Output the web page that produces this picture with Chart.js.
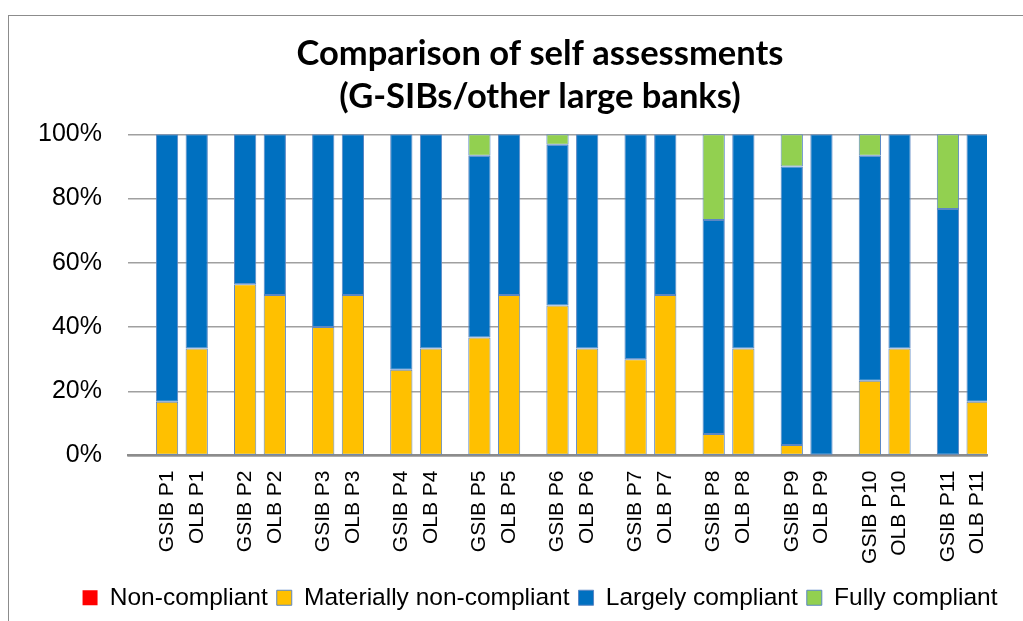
<!DOCTYPE html>
<html>
<head>
<meta charset="utf-8">
<title>Comparison of self assessments</title>
<script src="https://cdn.jsdelivr.net/npm/chart.js@4.4.1/dist/chart.umd.min.js"></script>
<style>
  html, body { margin: 0; padding: 0; background: #fff; overflow: hidden; }
  #wrap { position: relative; width: 1023px; height: 621px; overflow: hidden; }
  #frame { position: absolute; left: 8px; top: 15px; width: 1200px; height: 800px; border: 1.5px solid #8c8c8c; }
  #box { position: absolute; left: 0; top: 0; width: 1072px; height: 621px; }
</style>
</head>
<body>
<div id="wrap">
  <div id="frame"></div>
  <div id="box"><canvas id="chart"></canvas></div>
</div>
<script>
// Comparison of self assessments (G-SIBs / other large banks), shares in %

const principles = ['P1', 'P2', 'P3', 'P4', 'P5', 'P6', 'P7', 'P8', 'P9', 'P10', 'P11'];
const yTicks = [0, 20, 40, 60, 80, 100];

// G-SIBs
const gsibNonCompliant = [0, 0, 0, 0, 0, 0, 0, 0, 0, 0, 0];
const gsibMaterially   = [16.7, 53.3, 40, 26.7, 36.7, 46.7, 30, 6.7, 3.3, 23.3, 0];
const gsibLargely      = [83.3, 46.7, 60, 73.3, 56.6, 50, 70, 66.6, 86.7, 70, 76.7];
const gsibFully        = [0, 0, 0, 0, 6.7, 3.3, 0, 26.7, 10, 6.7, 23.3];

// other large banks
const olbNonCompliant = [0, 0, 0, 0, 0, 0, 0, 0, 0, 0, 0];
const olbMaterially   = [33.3, 50, 50, 33.3, 50, 33.3, 50, 33.3, 0, 33.3, 16.7];
const olbLargely      = [66.7, 50, 50, 66.7, 50, 66.7, 50, 66.7, 100, 66.7, 83.3];
const olbFully        = [0, 0, 0, 0, 0, 0, 0, 0, 0, 0, 0];

// empty slot left of each pair (keeps the G-SIB bar on the tick, like the original)
const emptySlot = [0, 0, 0, 0, 0, 0, 0, 0, 0, 0, 0];

const seriesNames = ['Non-compliant', 'Materially non-compliant', 'Largely compliant', 'Fully compliant'];
const seriesColors = ['#ff0000', '#ffc000', '#0070c0', '#92d050'];

const edge = '#5b87c4';

function series(i, values, stack) {
    return {
        label: seriesNames[i],
        data: values,
        stack: stack,
        backgroundColor: seriesColors[i],
        borderColor: i === 0 ? seriesColors[i] : edge,
        borderWidth: i === 0 ? 0 : 1,
        borderSkipped: false
    };
}

Chart.defaults.font.family = '"Liberation Sans", Arial, sans-serif';
Chart.defaults.color = '#000';

const ctx = document.getElementById('chart').getContext('2d');

new Chart(ctx, {
    type: 'bar',
    data: {
        labels: principles.map(p => ['GSIB ' + p, 'OLB ' + p]),
        datasets: [
            { label: '', data: emptySlot, stack: 'pad', borderWidth: 0, backgroundColor: 'rgba(0,0,0,0)' },
            series(0, gsibNonCompliant, 'GSIB'),
            series(1, gsibMaterially, 'GSIB'),
            series(2, gsibLargely, 'GSIB'),
            series(3, gsibFully, 'GSIB'),
            series(0, olbNonCompliant, 'OLB'),
            series(1, olbMaterially, 'OLB'),
            series(2, olbLargely, 'OLB'),
            series(3, olbFully, 'OLB')
        ]
    },
    options: {
        responsive: true,
        maintainAspectRatio: false,
        animation: false,
        categoryPercentage: 1.14,
        barPercentage: 0.75,
        layout: {
            padding: { left: 8, right: 0, top: 30, bottom: 1 }
        },
        plugins: {
            title: {
                display: true,
                text: ['Comparison of self assessments', '(G-SIBs/other large banks)'],
                color: '#000',
                font: { family: 'Lato, "Open Sans", sans-serif', size: 34.5, weight: 'bold', lineHeight: 1.25 },
                padding: { top: 2, bottom: 16 }
            },
            legend: {
                position: 'bottom',
                labels: {
                    boxWidth: 15,
                    boxHeight: 15,
                    padding: 9,
                    color: '#000',
                    font: { size: 24.5 },
                    filter: item => item.datasetIndex >= 1 && item.datasetIndex <= 4
                }
            },
            tooltip: { enabled: false }
        },
        scales: {
            x: {
                stacked: true,
                grid: { display: false, drawTicks: false },
                border: { display: true, color: '#8c8c8c', width: 2.5 },
                ticks: {
                    autoSkip: false,
                    minRotation: 90,
                    maxRotation: 90,
                    padding: 15,
                    color: '#000',
                    font: { size: 21, lineHeight: 1.414 }
                },
                afterFit: scale => { scale.height = 121; }
            },
            y: {
                stacked: true,
                min: 0,
                max: 100,
                afterBuildTicks: scale => { scale.ticks = yTicks.map(v => ({ value: v })); },
                grid: { color: '#a0a0a0', lineWidth: 1.5, drawTicks: false },
                border: { display: false },
                ticks: {
                    padding: 26,
                    color: '#000',
                    font: { size: 25 },
                    callback: v => v + '%'
                },
                afterFit: scale => { scale.width = 120; }
            },
            // empty right margin so the plot stops where the original one does
            yRight: {
                position: 'right',
                display: true,
                grid: { display: false },
                border: { display: false },
                ticks: { display: false },
                afterFit: scale => { scale.width = 85; }
            }
        }
    }
});
</script>
</body>
</html>
